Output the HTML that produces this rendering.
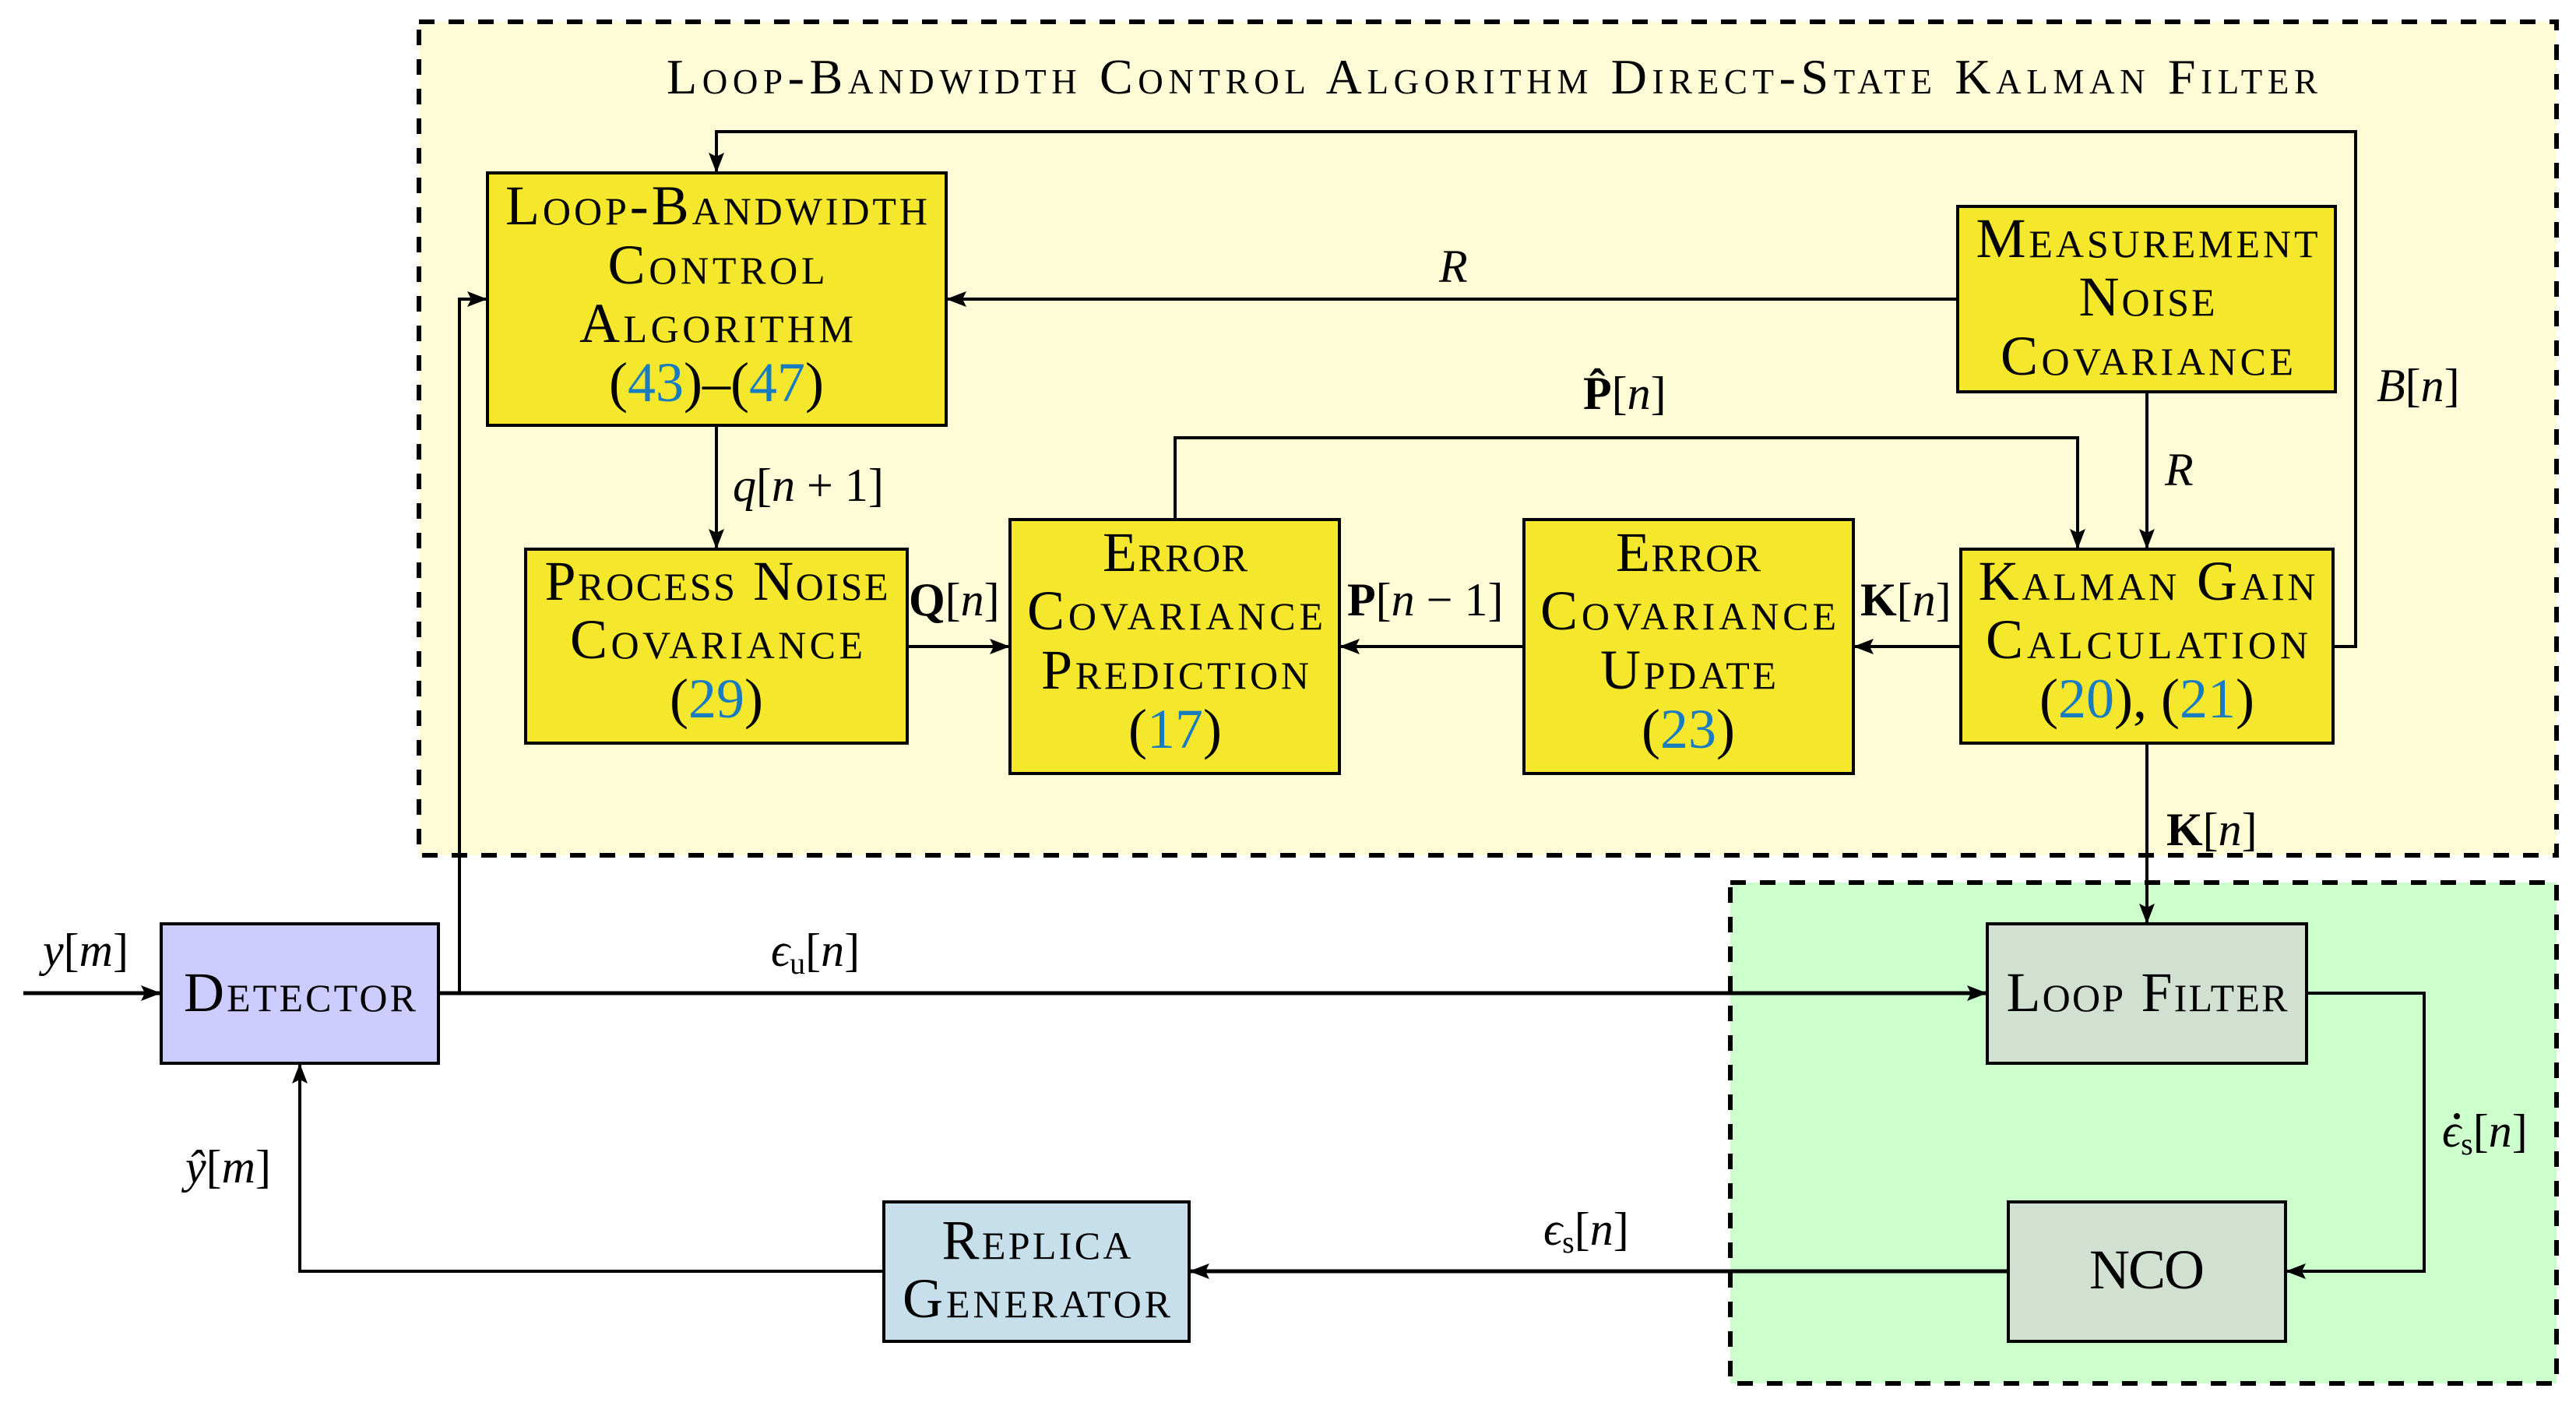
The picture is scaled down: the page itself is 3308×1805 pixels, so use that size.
<!DOCTYPE html>
<html><head><meta charset="utf-8"><style>
html,body{margin:0;padding:0;background:#fff;}
svg{display:block;}
text{font-family:"Liberation Serif",serif;fill:#000;}
.bx{font-size:72px;font-variant:small-caps;text-anchor:middle;}
.m{font-size:60px;font-style:italic;}
.b{font-style:normal;font-weight:bold;}
.r{font-style:normal;}
.n{fill:#1a7cc0;font-variant:normal;}
</style></head><body>
<svg width="3308" height="1805" viewBox="0 0 3308 1805" xmlns="http://www.w3.org/2000/svg">
<defs>
<marker id="a" markerWidth="26" markerHeight="20" refX="26" refY="10" orient="auto" markerUnits="userSpaceOnUse">
<path d="M0,0 L26,10 L0,20 L5,10 Z" fill="#000"/>
</marker>
</defs>
<rect x="538" y="28" width="2745" height="1070" fill="#fefbd7" stroke="#000" stroke-width="6" stroke-dasharray="20 18"/>
<rect x="2222" y="1133" width="1061" height="643" fill="#ccffcc" stroke="#000" stroke-width="6" stroke-dasharray="20 18"/>

<text x="1916" y="120" textLength="2120" style="font-size:64px;font-variant:small-caps;text-anchor:middle">Loop-Bandwidth Control Algorithm Direct-State Kalman Filter</text>

<g stroke="#000" stroke-width="4" fill="none">
<polyline points="2996,830 3025,830 3025,169 920,169 920,222" marker-end="url(#a)"/>
<line x1="2514" y1="384" x2="1215" y2="384" marker-end="url(#a)"/>
<line x1="920" y1="546" x2="920" y2="705" marker-end="url(#a)"/>
<line x1="1165" y1="830" x2="1297" y2="830" marker-end="url(#a)"/>
<line x1="1957" y1="830" x2="1720" y2="830" marker-end="url(#a)"/>
<line x1="2518" y1="830" x2="2380" y2="830" marker-end="url(#a)"/>
<polyline points="1509,667 1509,562 2668,562 2668,705" marker-end="url(#a)"/>
<line x1="2757" y1="503" x2="2757" y2="705" marker-end="url(#a)"/>
<line x1="2757" y1="954" x2="2757" y2="1186" marker-end="url(#a)"/>
<line x1="30" y1="1275" x2="207" y2="1275" stroke-width="5" marker-end="url(#a)"/>
<line x1="563" y1="1275" x2="2552" y2="1275" stroke-width="5" marker-end="url(#a)"/>
<polyline points="590,1275 590,384 626,384" marker-end="url(#a)"/>
<polyline points="2962,1275 3113,1275 3113,1632 2935,1632" marker-end="url(#a)"/>
<line x1="2579" y1="1632" x2="1527" y2="1632" stroke-width="5" marker-end="url(#a)"/>
<polyline points="1135,1632 385,1632 385,1365" marker-end="url(#a)"/>
</g>

<g stroke="#000" stroke-width="4">
<rect x="626" y="222" width="589" height="324" fill="#f5e72b"/>
<rect x="675" y="705" width="490" height="249" fill="#f5e72b"/>
<rect x="1297" y="667" width="423" height="326" fill="#f5e72b"/>
<rect x="1957" y="667" width="423" height="326" fill="#f5e72b"/>
<rect x="2518" y="705" width="478" height="249" fill="#f5e72b"/>
<rect x="2514" y="265" width="485" height="238" fill="#f5e72b"/>
<rect x="207" y="1186" width="356" height="179" fill="#ccccff"/>
<rect x="1135" y="1543" width="392" height="179" fill="#c6dfeb"/>
<rect x="2552" y="1186" width="410" height="179" fill="#d2e0d2"/>
<rect x="2579" y="1543" width="356" height="179" fill="#d2e0d2"/>
</g>

<text class="bx" x="920" y="288" textLength="542">Loop-Bandwidth</text>
<text class="bx" x="920" y="364" textLength="279">Control</text>
<text class="bx" x="920" y="439" textLength="352">Algorithm</text>
<text class="bx" x="920" y="515">(<tspan class="n">43</tspan>)–(<tspan class="n">47</tspan>)</text>

<text class="bx" x="920" y="770" textLength="441">Process Noise</text>
<text class="bx" x="920" y="845" textLength="376">Covariance</text>
<text class="bx" x="920" y="921">(<tspan class="n">29</tspan>)</text>

<text class="bx" x="1509" y="733" textLength="186">Error</text>
<text class="bx" x="1509" y="808" textLength="380">Covariance</text>
<text class="bx" x="1509" y="884" textLength="344">Prediction</text>
<text class="bx" x="1509" y="960">(<tspan class="n">17</tspan>)</text>

<text class="bx" x="2168" y="733" textLength="186">Error</text>
<text class="bx" x="2168" y="808" textLength="380">Covariance</text>
<text class="bx" x="2168" y="884" textLength="226">Update</text>
<text class="bx" x="2168" y="960">(<tspan class="n">23</tspan>)</text>

<text class="bx" x="2757" y="770" textLength="433">Kalman Gain</text>
<text class="bx" x="2757" y="845" textLength="414">Calculation</text>
<text class="bx" x="2757" y="921">(<tspan class="n">20</tspan>), (<tspan class="n">21</tspan>)</text>

<text class="bx" x="2757" y="330" textLength="439">Measurement</text>
<text class="bx" x="2757" y="405" textLength="175">Noise</text>
<text class="bx" x="2757" y="481" textLength="376">Covariance</text>

<text class="bx" x="385" y="1298" textLength="298">Detector</text>
<text class="bx" x="1331" y="1616" textLength="243">Replica</text>
<text class="bx" x="1331" y="1691" textLength="344">Generator</text>
<text class="bx" x="2757" y="1298" textLength="361">Loop Filter</text>
<text class="bx" x="2757" y="1654" style="font-variant:normal" textLength="148">NCO</text>

<text class="m" x="1848" y="362">R</text>
<text class="m" x="2033" y="525"><tspan class="b">P̂</tspan><tspan class="r">[</tspan>n<tspan class="r">]</tspan></text>
<text class="m" x="3052" y="515">B<tspan class="r">[</tspan>n<tspan class="r">]</tspan></text>
<text class="m" x="2780" y="623">R</text>
<text class="m" x="941" y="643">q<tspan class="r">[</tspan>n<tspan class="r"> + 1]</tspan></text>
<text class="m" x="1167" y="790"><tspan class="b">Q</tspan><tspan class="r">[</tspan>n<tspan class="r">]</tspan></text>
<text class="m" x="1730" y="790"><tspan class="b">P</tspan><tspan class="r">[</tspan>n<tspan class="r"> − 1]</tspan></text>
<text class="m" x="2389" y="790"><tspan class="b">K</tspan><tspan class="r">[</tspan>n<tspan class="r">]</tspan></text>
<text class="m" x="2782" y="1085"><tspan class="b">K</tspan><tspan class="r">[</tspan>n<tspan class="r">]</tspan></text>
<text class="m" x="55" y="1240">y<tspan class="r">[</tspan>m<tspan class="r">]</tspan></text>
<text class="m" x="990" y="1240">ϵ<tspan class="r" style="font-size:40px" dy="10">u</tspan><tspan class="r" dy="-10">[</tspan>n<tspan class="r">]</tspan></text>
<text class="m" x="238" y="1518">ŷ<tspan class="r">[</tspan>m<tspan class="r">]</tspan></text>
<text class="m" x="1982" y="1598">ϵ<tspan class="r" style="font-size:40px" dy="10">s</tspan><tspan class="r" dy="-10">[</tspan>n<tspan class="r">]</tspan></text>
<text class="m" x="3136" y="1472">ϵ<tspan class="r" style="font-size:40px" dy="10">s</tspan><tspan class="r" dy="-10">[</tspan>n<tspan class="r">]</tspan></text>
<circle cx="3155" cy="1433" r="4" fill="#000"/>
</svg>
</body></html>
